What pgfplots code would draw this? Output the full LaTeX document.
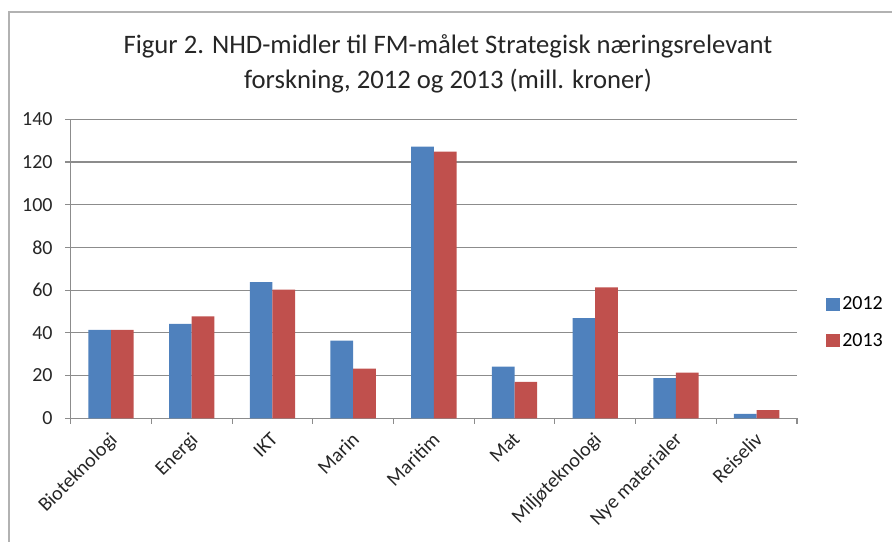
\documentclass[border=0pt]{standalone}
\usepackage{pgfplots}
\pgfplotsset{compat=1.18}
\usepackage{fontspec}
\setmainfont{Carlito}
\definecolor{cblue}{HTML}{4F81BD}
\definecolor{cred}{HTML}{C0504D}
\definecolor{gridc}{HTML}{8C8C8C}
\pgfplotstableread{
x y2012 y2013
0 41.4 41.4
1 44.2 47.7
2 63.8 60.2
3 36.3 23.3
4 127.2 124.8
5 24.2 17.0
6 46.9 61.3
7 18.8 21.4
8 2.0 3.8
}\datatable
\begin{document}
\begin{tikzpicture}
\path[use as bounding box] (0pt,0pt) rectangle (669pt,406.5pt);
\draw[gray!60, line width=0.9pt] (6.75pt,0pt) -- (6.75pt,397.5pt) -- (669pt,397.5pt);
\node[align=center, font=\fontsize{20}{26}\selectfont, text=black!85] at (336pt,358.5pt) {Figur 2. NHD-midler til FM-målet Strategisk næringsrelevant\\forskning, 2012 og 2013 (mill. kroner)};
\begin{axis}[
  at={(53pt,92.8pt)}, anchor=south west,
  scale only axis,
  width=544.75pt, height=224.25pt,
  ybar=0pt, bar width=17pt,
  xmin=-0.5, xmax=8.5,
  ymin=0, ymax=140,
  ytick={0,20,...,140},
  xtick=data,
  xticklabels={Bioteknologi,Energi,IKT,Marin,Maritim,Mat,Miljøteknologi,Nye materialer,Reiseliv},
  minor xtick={-0.5,0.5,...,8.5},
  axis x line*=bottom, axis y line*=left,
  axis line style={gridc, line width=0.8pt, -},
  ymajorgrids, major grid style={gridc, line width=0.8pt},
  tick align=outside,
  major tick length=4pt, minor tick length=4pt,
  major x tick style={draw=none},
  minor x tick style={gridc, line width=0.8pt},
  y tick style={gridc, line width=0.8pt},
  tick label style={font=\fontsize{15}{17}\selectfont, text=black!85},
  /pgf/number format/assume math mode=true,
  xticklabel style={xshift=-2pt, yshift=-4pt, rotate=45, anchor=north east, inner sep=1pt},
  yticklabel style={xshift=-6pt},
  legend style={at={(rel axis cs:1.04,0.32)}, anchor=west, draw=none, fill=none,
    font=\fontsize{15}{17}\selectfont, row sep=12pt, inner sep=0pt},
  legend cell align=left,
  legend image code/.code={\fill[#1] (0pt,-5pt) rectangle (10pt,5pt);},
]
\addplot[fill=cblue, draw=none] table[x=x,y=y2012] {\datatable};
\addplot[fill=cred, draw=none] table[x=x,y=y2013] {\datatable};
\legend{2012,2013}
\end{axis}
\end{tikzpicture}
\end{document}
